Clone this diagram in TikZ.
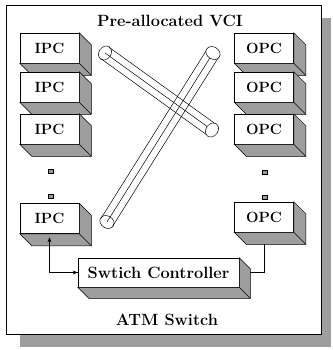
\documentclass[tikz,border=0pt]{standalone}
\usetikzlibrary{calc,arrows.meta}
\newcommand\boxshade[2][12]{%
  \path[shadefill] (#2.north east) -- ++(#1,#1) -- ($(#2.south east)+(#1,#1)$) -- ($(#2.south west)+(#1,#1)$) -- (#2.south west) -- (#2.south east) -- cycle;
  \draw[line width=0.5pt] (#2.south east) -- ++(#1,#1);}
\begin{document}
\begin{tikzpicture}[x=1pt,y=-1pt,
  frontbox/.style={draw,fill=white,line width=0.6pt,minimum width=59pt,minimum height=30pt,inner sep=0pt,font=\fontsize{14.8}{16}\selectfont\bfseries},
  shadefill/.style={fill=black!38,draw=black,line width=0.5pt},
  dotbox/.style={draw,fill=black!40,minimum width=5pt,minimum height=4pt,inner sep=0pt,line width=0.5pt},
  tubeline/.style={line width=0.5pt},
  lbl/.style={font=\fontsize{16.3}{18}\selectfont\bfseries,inner sep=0pt},
  conn/.style={line width=0.5pt},
  tip/.style={-{Stealth[length=5pt,width=4pt]}}]
\useasboundingbox (0,0) rectangle (332,350);
\fill[white] (0,0) rectangle (332,350);
% outer shadow and frame
\fill[black!38] (321,18) rectangle (331,347);
\fill[black!38] (20,334) rectangle (331,347);
\draw[line width=0.6pt] (6,5) rectangle (321,334);
% title
\node[lbl] (title) at (170,21) {Pre-allocated VCI};
% IPC column
\node[frontbox] (ipc1) at (49.5,48) {IPC}; \boxshade{ipc1}
\node[frontbox] (ipc2) at (49.5,87) {IPC}; \boxshade{ipc2}
\node[frontbox] (ipc3) at (49.5,129) {IPC}; \boxshade{ipc3}
\node[dotbox] (idot1) at (51,171) {};
\node[dotbox] (idot2) at (51,196) {};
\node[frontbox] (ipc4) at (49.5,218.5) {IPC}; \boxshade{ipc4}
% OPC column
\node[frontbox] (opc1) at (264,48) {OPC}; \boxshade{opc1}
\node[frontbox] (opc2) at (264,87) {OPC}; \boxshade{opc2}
\node[frontbox] (opc3) at (264,129) {OPC}; \boxshade{opc3}
\node[dotbox] (odot1) at (265,172) {};
\node[dotbox] (odot2) at (265,197) {};
\node[frontbox] (opc4) at (264,217) {OPC}; \boxshade{opc4}
% controller
\node[frontbox,minimum width=161pt,minimum height=29pt,font=\fontsize{16.3}{18}\selectfont\bfseries] (ctrl) at (158.5,272.5) {Swtich Controller};
\boxshade[11]{ctrl}
% connectors
\draw[conn,tip] (ctrl.west) -| ($(ipc4.south)+(0,3.5)$);
\draw[conn,tip] ($(ctrl.west)+(-28,0)$) -- (ctrl.west);
\draw[conn] ($(opc4.south)+(0,12)$) |- ($(ctrl.east)+(11,0)$);
% tubes
\coordinate (a1) at (105,53); \coordinate (a2) at (212,130);
\coordinate (b1) at (107,222); \coordinate (b2) at (213,53);
\foreach \k in {-7,0,7}{
  \draw[tubeline] ($(a1)!\k pt!90:(a2)$) -- ($(a2)!\k pt!-90:(a1)$);
  \draw[tubeline] ($(b1)!\k pt!90:(b2)$) -- ($(b2)!\k pt!-90:(b1)$);
}
\draw[tubeline,fill=white,rotate around={-35.7:(a2)}] (a2) ellipse [x radius=6, y radius=7.5];
\draw[tubeline,fill=white,rotate around={57.9:(b2)}] (b2) ellipse [x radius=6, y radius=7.5];
\draw[tubeline,rotate around={-35.7:(a1)}] (a1) ellipse [x radius=6, y radius=7.5];
\draw[tubeline,rotate around={57.9:(b1)}] (b1) ellipse [x radius=6, y radius=7.5];
% bottom label
\node[lbl] (atm) at (167,320) {ATM Switch};
\end{tikzpicture}
\end{document}
